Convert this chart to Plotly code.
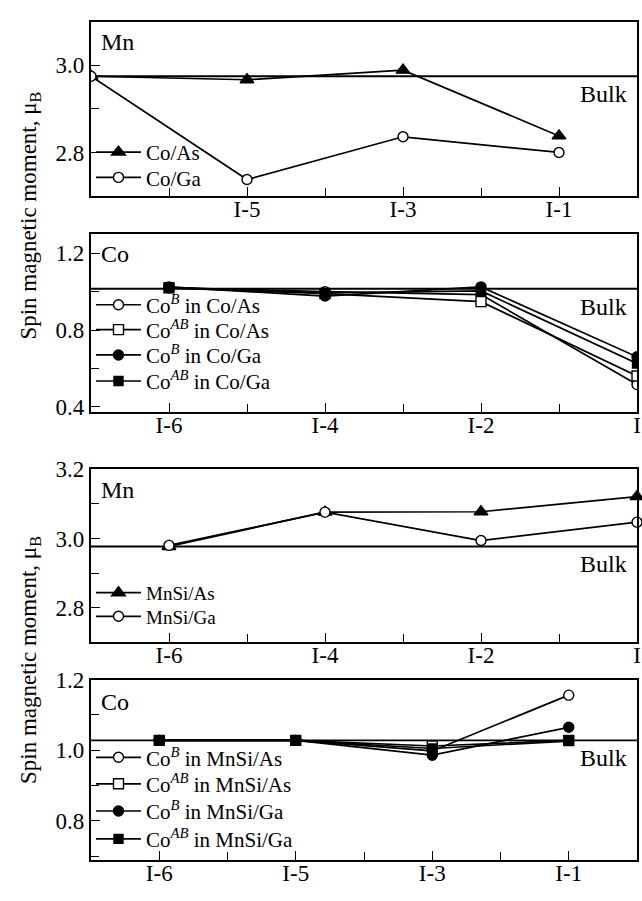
import plotly.graph_objects as go

# ---------------- data ----------------
# (a) Mn moments, Co-terminated films (layer index, 0 = interface)
mn_co_layers = [-7, -5, -3, -1]
mn_co_as = [2.975, 2.967, 2.989, 2.838]
mn_co_ga = [2.975, 2.738, 2.836, 2.800]
mn_bulk_a = [2.975, 2.975]

# (b) Co moments, Co-terminated films
co_co_layers = [-6, -4, -2, 0]
coB_co_as = [1.020, 1.000, 0.985, 0.515]
coAB_co_as = [1.020, 0.990, 0.948, 0.560]
coB_co_ga = [1.025, 0.977, 1.025, 0.660]
coAB_co_ga = [1.022, 0.994, 1.004, 0.625]
co_bulk_b = [1.015, 1.015]

# (c) Mn moments, MnSi-terminated films
mn_mnsi_layers = [-6, -4, -2, 0]
mn_mnsi_as = [2.977, 3.076, 3.077, 3.121]
mn_mnsi_ga = [2.980, 3.076, 2.994, 3.047]
mn_bulk_c = [2.977, 2.977]

# (d) Co moments, MnSi-terminated films (plotted at positions 1, 3, 5, 7)
co_mnsi_layers = [1, 3, 5, 7]
coB_mnsi_as = [1.028, 1.028, 0.998, 1.156]
coAB_mnsi_as = [1.028, 1.028, 1.012, 1.028]
coB_mnsi_ga = [1.028, 1.028, 0.986, 1.065]
coAB_mnsi_ga = [1.028, 1.028, 1.005, 1.026]
co_bulk_d = [1.028, 1.028]

# tick labels
ticks_a = ["I-5", "I-3", "I-1"]
ticks_bc = ["I-6", "I-4", "I-2", "I"]
ticks_d = ["I-6", "I-5", "I-3", "I-1"]

# ---------------- styling ----------------
FONT = "Liberation Serif, Times New Roman, serif"
H = 901.0
W = 642
ML, MR = 91, 5

# panel vertical extents in pixels (top, bottom) and y ranges
panels = [(10, 188), (227, 409), (467, 644), (682, 866)]
domains = [[1 - b / H, 1 - t / H] for t, b in panels]
yranges = [[2.70, 3.10], [0.37, 1.30], [2.70, 3.20], [0.69, 1.20]]

fig = go.Figure()

MARK = {
    "tri": dict(symbol="triangle-up", size=12, color="black"),
    "ocirc": dict(symbol="circle", size=10, color="white"),
    "fcirc": dict(symbol="circle", size=10, color="black"),
    "osq": dict(symbol="square", size=10, color="white"),
    "fsq": dict(symbol="square", size=9, color="black"),
}

legend_layouts = {}


def legend_y(n, value):
    """Paper y of a value on panel n's y axis."""
    d0, d1 = domains[n - 1]
    r0, r1 = yranges[n - 1]
    return d0 + (value - r0) / (r1 - r0) * (d1 - d0)


def series(x, y, name, mk, n, key_level, clip, key_size=21):
    m = dict(MARK[mk])
    m["line"] = dict(color="black", width=1.4)
    lg = f"legend{len(legend_layouts) + 1}" if legend_layouts else "legend"
    legend_layouts[lg] = dict(
        x=0.0, y=legend_y(n, key_level), xanchor="left", yanchor="middle",
        bgcolor="rgba(0,0,0,0)", borderwidth=0, itemwidth=45,
        font=dict(family=FONT, size=key_size, color="black"), itemclick=False,
    )
    fig.add_trace(go.Scatter(
        x=x, y=y, name=name, mode="lines+markers",
        xaxis="x" if n == 1 else f"x{n}", yaxis="y" if n == 1 else f"y{n}",
        legend=lg, line=dict(color="black", width=1.7), marker=m,
        cliponaxis=clip,
    ))


def bulk(xr, y, n):
    fig.add_trace(go.Scatter(
        x=xr, y=y, mode="lines", showlegend=False, hoverinfo="skip",
        xaxis="x" if n == 1 else f"x{n}", yaxis="y" if n == 1 else f"y{n}",
        line=dict(color="black", width=1.9),
    ))


xr7 = [-7, 0]
xr8 = [0, 8]

bulk(xr7, mn_bulk_a, 1)
series(mn_co_layers, mn_co_as, "Co/As", "tri", 1, 2.80, True)
series(mn_co_layers, mn_co_ga, "Co/Ga", "ocirc", 1, 2.742, True)

bulk(xr7, co_bulk_b, 2)
series(co_co_layers, coB_co_as, "Co<sup><i>B</i></sup> in Co/As", "ocirc", 2, 0.93, True)
series(co_co_layers, coAB_co_as, "Co<sup><i>AB</i></sup> in Co/As", "osq", 2, 0.80, True)
series(co_co_layers, coB_co_ga, "Co<sup><i>B</i></sup> in Co/Ga", "fcirc", 2, 0.668, True)
series(co_co_layers, coAB_co_ga, "Co<sup><i>AB</i></sup> in Co/Ga", "fsq", 2, 0.532, True)

bulk(xr7, mn_bulk_c, 3)
series(mn_mnsi_layers, mn_mnsi_as, "MnSi/As", "tri", 3, 2.843, False, 19)
series(mn_mnsi_layers, mn_mnsi_ga, "MnSi/Ga", "ocirc", 3, 2.775, False, 19)

bulk(xr8, co_bulk_d, 4)
series(co_mnsi_layers, coB_mnsi_as, "Co<sup><i>B</i></sup> in MnSi/As", "ocirc", 4, 0.979, False)
series(co_mnsi_layers, coAB_mnsi_as, "Co<sup><i>AB</i></sup> in MnSi/As", "osq", 4, 0.904, False)
series(co_mnsi_layers, coB_mnsi_ga, "Co<sup><i>B</i></sup> in MnSi/Ga", "fcirc", 4, 0.827, False)
series(co_mnsi_layers, coAB_mnsi_ga, "Co<sup><i>AB</i></sup> in MnSi/Ga", "fsq", 4, 0.748, False)

axis_base = dict(
    showline=True, linecolor="black", linewidth=2.4, mirror=True,
    ticks="inside", ticklen=9, tickwidth=1.4, tickcolor="black",
    showgrid=False, zeroline=False,
    tickfont=dict(family=FONT, size=23, color="black"),
)


def xaxis(n, rng, vals, text, minor_vals):
    a = dict(axis_base)
    a.update(range=rng, tickmode="array", tickvals=vals, ticktext=text,
             anchor="y" if n == 1 else f"y{n}", domain=[0, 1],
             ticklabelstandoff=-9,
             minor=dict(tickmode="array", tickvals=minor_vals, ticks="inside",
                        ticklen=8, tickwidth=1.4, tickcolor="black"))
    return a


def yaxis(n, vals, minor_vals):
    a = dict(axis_base)
    a.update(range=yranges[n - 1], tickmode="array", tickvals=vals,
             ticktext=[f"{v:.1f}" for v in vals],
             anchor="x" if n == 1 else f"x{n}", domain=domains[n - 1],
             minor=dict(tickmode="array", tickvals=minor_vals, ticks="inside",
                        ticklen=8, tickwidth=1.4, tickcolor="black"))
    return a


layout = dict(
    width=W, height=int(H), margin=dict(l=ML, r=MR, t=0, b=0),
    paper_bgcolor="white", plot_bgcolor="white",
    font=dict(family=FONT, size=23, color="black"),
    xaxis=xaxis(1, [-7, 0], [-5, -3, -1], ticks_a, [-6, -4, -2]),
    xaxis2=xaxis(2, [-7, 0], [-6, -4, -2, 0], ticks_bc, [-5, -3, -1]),
    xaxis3=xaxis(3, [-7, 0], [-6, -4, -2, 0], ticks_bc, [-5, -3, -1]),
    xaxis4=xaxis(4, [0, 8], [1, 3, 5, 7], ticks_d, [2, 4, 6]),
    yaxis=yaxis(1, [2.8, 3.0], [2.9]),
    yaxis2=yaxis(2, [0.4, 0.8, 1.2], [0.6, 1.0]),
    yaxis3=yaxis(3, [2.8, 3.0, 3.2], [2.9, 3.1]),
    yaxis4=yaxis(4, [0.8, 1.0, 1.2], [0.7, 0.9, 1.1]),
    showlegend=True,
)
layout.update(legend_layouts)
fig.update_layout(**layout)

# panel labels
labels = [("Mn", 1, 0.885), ("Co", 2, 0.89), ("Mn", 3, 0.88), ("Co", 4, 0.875)]
for text, n, yd in labels:
    fig.add_annotation(text=text, xref=("x" if n == 1 else f"x{n}") + " domain",
                       yref=("y" if n == 1 else f"y{n}") + " domain",
                       x=0.015, y=yd, xanchor="left", yanchor="middle",
                       showarrow=False, font=dict(family=FONT, size=24))

# "Bulk" captions just under each bulk line
bulk_vals = [(mn_bulk_a[0], 1), (co_bulk_b[0], 2), (mn_bulk_c[0], 3), (co_bulk_d[0], 4)]
for val, n in bulk_vals:
    fig.add_annotation(text="Bulk", xref=("x" if n == 1 else f"x{n}") + " domain",
                       yref="y" if n == 1 else f"y{n}", x=0.985, y=val,
                       xanchor="right", yanchor="middle", yshift=-18,
                       showarrow=False, font=dict(family=FONT, size=24))

# shared y titles
for ycen in (208, 662):
    fig.add_annotation(text="Spin magnetic moment, μ<sub>B</sub>", xref="paper",
                       yref="paper", x=(30 - ML) / (W - ML - MR), y=1 - ycen / H,
                       xanchor="center", yanchor="middle", textangle=-90,
                       showarrow=False, font=dict(family=FONT, size=23))

fig.write_html("out.html")
